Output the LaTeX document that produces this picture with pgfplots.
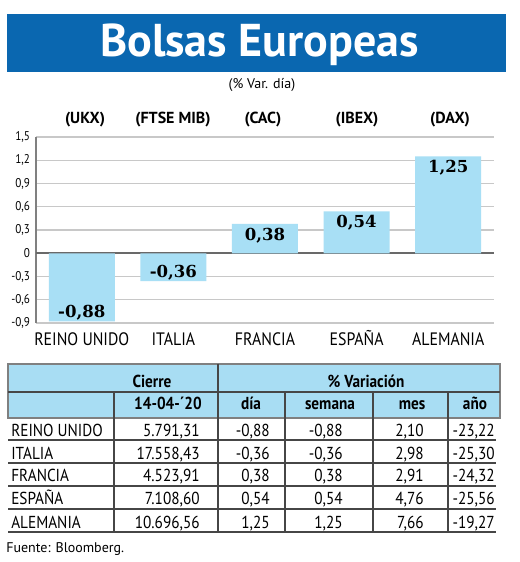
\documentclass[border=0pt]{standalone}
\usepackage{pgfplots}
\pgfplotsset{compat=1.18}
\usepackage{pgfplotstable}
\usepackage{fontspec}
\setmainfont{PT Sans}
\newfontfamily\cond[FakeStretch=0.88]{PT Sans}
\newfontfamily\serifb{DejaVu Serif}
\definecolor{banner}{RGB}{10,103,176}
\definecolor{barblue}{RGB}{168,223,245}
\definecolor{gridc}{RGB}{200,200,200}
\definecolor{zeroc}{RGB}{105,105,105}
\definecolor{hdr}{RGB}{168,221,243}
\definecolor{linec}{RGB}{70,70,70}

\pgfplotstableread{
x y lab
0 -0.88 -0,88
1 -0.36 -0,36
}\bolsasneg
\pgfplotstableread{
x y lab
2 0.38 0,38
3 0.54 0,54
4 1.25 1,25
}\bolsaspos

\newcommand\trow[7]{%
  \node[anchor=base west] at (11,#1) {#2};
  \node[anchor=base east] at (200,#1) {#3};
  \node[anchor=base east] at (270,#1) {#4};
  \node[anchor=base east] at (343,#1) {#5};
  \node[anchor=base east] at (424,#1) {#6};
  \node[anchor=base east] at (495,#1) {#7};
}

\begin{document}
\begin{tikzpicture}[x=0.75pt,y=0.75pt]
\path[use as bounding box, fill=white] (0,0) rectangle (520,562);
% banner
\fill[banner] (7,548) rectangle (506,490);
\node[anchor=base, text=white, font=\bfseries\fontsize{34.5}{40}\selectfont, inner sep=0pt] at (259.5,505) {Bolsas Europeas};
\node[anchor=base, font=\fontsize{10.5}{12}\selectfont, inner sep=0pt] at (262,473) {(\% Var. día)};
% index labels
\foreach \xx/\tt in {85/(UKX),173/(FTSE MIB),263/(CAC),357/(IBEX),450/(DAX)}{
  \node[anchor=base, font=\bfseries\fontsize{12}{14}\selectfont, inner sep=0pt] at (\xx,438) {\tt};
}
\begin{axis}[
  at={(27pt,179.25pt)}, anchor=south west,
  scale only axis, width=343.5pt, height=139.5pt,
  xmin=-0.5, xmax=4.5, ymin=-0.9, ymax=1.5,
  axis line style={draw=none},
  xtick={0,1,2,3,4},
  xticklabels={REINO UNIDO, ITALIA, FRANCIA, ESPAÑA, ALEMANIA},
  ytick={-0.9,-0.6,-0.3,0,0.3,0.6,0.9,1.2,1.5},
  major tick length=0pt,
  ymajorgrids, major grid style={gridc, line width=0.8pt},
  extra x ticks={-0.5}, extra x tick labels={},
  extra x tick style={xmajorgrids, major grid style={gray, line width=0.8pt}},
  extra y ticks={0}, extra y tick labels={},
  extra y tick style={ymajorgrids, major grid style={zeroc, line width=1.6pt}},
  xticklabel style={font=\cond\fontsize{13.5}{16}\selectfont, text height=9.6pt, text depth=0pt, yshift=-4pt},
  yticklabel style={font=\cond\fontsize{9.5}{11}\selectfont, anchor=east, xshift=-1pt},
  /pgf/number format/.cd, use comma, fixed, precision=1, assume math mode=true,
]
\addplot[ybar, bar shift=0pt, fill=barblue, draw=none, bar width=49.5pt,
  point meta=explicit symbolic,
  nodes near coords,
  every node near coord/.append style={anchor=south, font=\serifb\bfseries\fontsize{12.4}{14}\selectfont, text=black, inner sep=3pt, yshift=-2.5pt},
] table[x=x, y=y, meta=lab]{\bolsasneg};
\addplot[ybar, bar shift=0pt, fill=barblue, draw=none, bar width=49.5pt,
  point meta=explicit symbolic,
  nodes near coords,
  every node near coord/.append style={anchor=north, font=\serifb\bfseries\fontsize{12.4}{14}\selectfont, text=black, inner sep=3pt},
] table[x=x, y=y, meta=lab]{\bolsaspos};
\end{axis}
% table header
\fill[hdr] (8,198) rectangle (500,144);
\draw[gray, line width=0.8pt] (8,198) rectangle (500,144);
\draw[linec, line width=1pt] (8,170) -- (500,170);
\draw[linec, line width=0.8pt] (218,198) -- (218,144);
\foreach \xx in {114,285,373,448}{\draw[linec, line width=0.8pt] (\xx,170) -- (\xx,144);}
\foreach \xx in {114,218,285,373,448}{\draw[linec, line width=0.8pt] (\xx,144) -- (\xx,30);}
\foreach \yy in {122,99,76,53,30}{\draw[linec, line width=1pt] (8,\yy) -- (496,\yy);}
\begin{scope}[every node/.style={inner sep=0pt, anchor=base, font=\cond\bfseries\fontsize{13}{15}\selectfont}]
\node at (152,175) {Cierre};
\node at (366,175) {\% Variación};
\node at (168,152) {14-04-´20};
\node at (251,152) {día};
\node at (330,152) {semana};
\node at (412,152) {mes};
\node at (475,152) {año};
\end{scope}
\begin{scope}[every node/.style={inner sep=0pt, font=\cond\fontsize{13}{15}\selectfont}]
\trow{126}{REINO UNIDO}{5.791,31}{-0,88}{-0,88}{2,10}{-23,22}
\trow{103}{ITALIA}{17.558,43}{-0,36}{-0,36}{2,98}{-25,30}
\trow{80}{FRANCIA}{4.523,91}{0,38}{0,38}{2,91}{-24,32}
\trow{57}{ESPAÑA}{7.108,60}{0,54}{0,54}{4,76}{-25,56}
\trow{34}{ALEMANIA}{10.696,56}{1,25}{1,25}{7,66}{-19,27}
\end{scope}
\node[anchor=base west, inner sep=0pt, font=\fontsize{10.5}{12}\selectfont] at (6,9) {Fuente: Bloomberg.};
\end{tikzpicture}
\end{document}
